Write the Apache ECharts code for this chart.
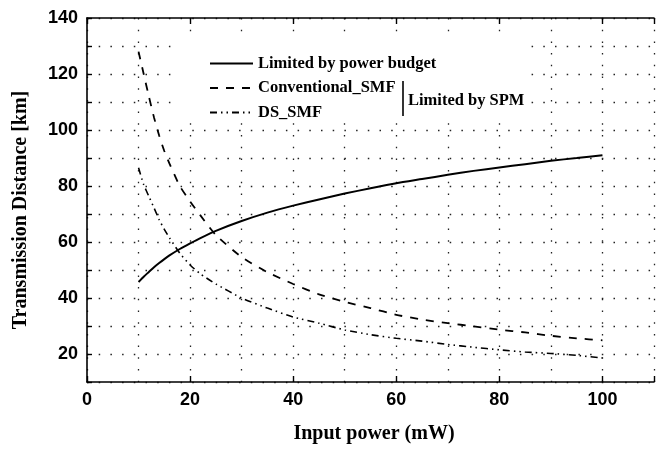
<!DOCTYPE html>
<html>
<head>
<meta charset="utf-8">
<script src="https://cdn.jsdelivr.net/npm/echarts@6/dist/echarts.min.js"></script>
<style>
  html, body { margin: 0; padding: 0; background: #fff; }
  #chart { width: 657px; height: 449px; }
</style>
</head>
<body>
<div id="chart"></div>
<script>
// input power (mW)
var power = [10, 11, 12, 13, 14, 15, 16, 18, 20, 22, 25, 30, 35, 40, 45, 50, 55, 60, 65, 70, 75, 80, 85, 90, 95, 100];
// transmission distance (km)
var budget = [45.7, 47.6, 49.3, 51, 52.5, 53.9, 55.2, 57.5, 59.5, 61.4, 64, 67.5, 70.5, 73, 75.2, 77.3, 79.2, 81, 82.5, 84, 85.4, 86.6, 87.8, 89, 90, 91];
var convSmf = [128, 120, 112, 104.5, 98, 92.5, 88, 80, 74.5, 69.5, 62.5, 54.6, 49.2, 45, 41.3, 38.6, 36.4, 34, 32.3, 31, 29.9, 28.7, 27.7, 26.5, 25.6, 24.9];
var dsSmf = [86.5, 80.5, 76.3, 72.2, 68, 64.5, 61.5, 56, 51.8, 48.6, 45, 40, 36.4, 33.2, 31, 28.6, 26.9, 25.6, 24.6, 23.4, 22.4, 21.5, 20.7, 20.2, 19.5, 18.6];
var names = ['Limited by power budget', 'Conventional_SMF', 'DS_SMF'];

function pairs(ys) {
  return power.map(function (x, i) { return [x, ys[i]]; });
}

var serif = 'Liberation Serif';
var dotted = { color: '#222', width: 1.3, type: [1.5, 10.2] };

var chart = echarts.init(document.getElementById('chart'));
var option = {
  animation: false,
  backgroundColor: '#fff',
  grid: { left: 87, right: -3, top: 18, bottom: 67 },
  legend: {
    orient: 'vertical',
    left: 209,
    top: 55,
    padding: 0,
    itemWidth: 43,
    itemHeight: 12,
    itemGap: 7.5,
    data: names,
    itemStyle: { opacity: 0 },
    textStyle: { fontFamily: serif, fontWeight: 'bold', fontSize: 16.5, color: '#000' }
  },
  xAxis: [{
    type: 'value',
    min: 0, max: 110, interval: 20,
    axisLine: { lineStyle: { color: '#000', width: 1.6 } },
    axisTick: { inside: true, length: 6, lineStyle: { color: '#000', width: 1.4 } },
    axisLabel: {
      margin: 9,
      fontFamily: 'Liberation Sans', fontWeight: 'bold', fontSize: 18, color: '#000',
      formatter: function (v) { return v <= 100 ? v : ''; }
    },
    splitLine: { show: true, lineStyle: dotted },
    minorTick: { show: false, splitNumber: 2 },
    minorSplitLine: { show: true, lineStyle: dotted }
  }, {
    type: 'value',
    position: 'top',
    min: 0, max: 110, interval: 20,
    axisLine: { lineStyle: { color: '#000', width: 1.6 } },
    axisTick: { inside: true, length: 6, lineStyle: { color: '#000', width: 1.4 } },
    axisLabel: { show: false },
    splitLine: { show: false }
  }],
  yAxis: {
    type: 'value',
    min: 10, max: 140, interval: 10,
    axisLine: { show: true, lineStyle: { color: '#000', width: 1.6 } },
    axisTick: { show: true, inside: true, length: 5, lineStyle: { color: '#000', width: 1.4 } },
    axisLabel: {
      margin: 9,
      fontFamily: 'Liberation Sans', fontWeight: 'bold', fontSize: 18, color: '#000',
      formatter: function (v) { return v % 20 === 0 ? v : ''; }
    },
    splitLine: { show: true, lineStyle: dotted }
  },
  graphic: [
    { type: 'rect', z: 1, shape: { x: 175, y: 38, width: 355, height: 80 }, style: { fill: '#fff' } },
    { type: 'line', z: 5, shape: { x1: 403, y1: 81, x2: 403, y2: 116 }, style: { stroke: '#000', lineWidth: 1.6 } },
    { type: 'text', z: 5, x: 408, y: 92,
      style: { text: 'Limited by SPM', font: 'bold 16.5px "Liberation Serif"', fill: '#000' } },
    { type: 'text', z: 5, x: 374, y: 424,
      style: { text: 'Input power (mW)', font: 'bold 20px "Liberation Serif"', fill: '#000', textAlign: 'center' } },
    { type: 'text', z: 5, rotation: Math.PI / 2, x: 11, y: 210,
      style: { text: 'Transmission Distance [km]', font: 'bold 20px "Liberation Serif"', fill: '#000', textAlign: 'center' } }
  ],
  series: [{
    name: names[0],
    type: 'line',
    data: pairs(budget),
    symbol: 'none',
    smooth: 0.2,
    lineStyle: { color: '#000', width: 2 },
    itemStyle: { color: '#000' }
  }, {
    name: names[1],
    type: 'line',
    data: pairs(convSmf),
    symbol: 'none',
    smooth: 0.2,
    lineStyle: { color: '#000', width: 1.8, type: [8, 8] },
    itemStyle: { color: '#000' }
  }, {
    name: names[2],
    type: 'line',
    data: pairs(dsSmf),
    symbol: 'none',
    smooth: 0.2,
    lineStyle: { color: '#000', width: 1.6, type: [7, 4, 1.5, 4, 1.5, 4] },
    itemStyle: { color: '#000' }
  }]
};
chart.setOption(option);
</script>
</body>
</html>
